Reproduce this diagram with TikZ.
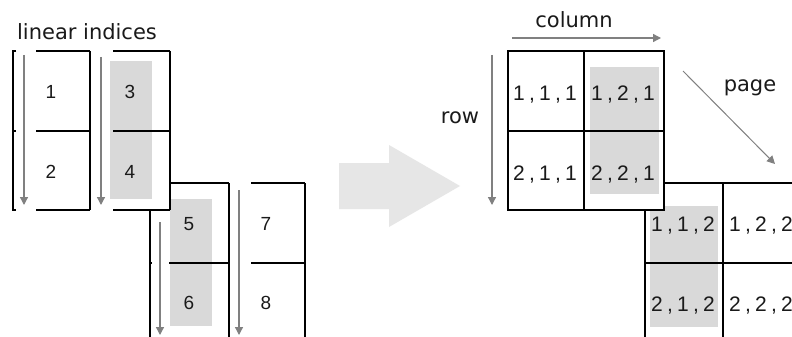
\documentclass[tikz,border=0pt]{standalone}
\usepackage{fontspec}
\setmainfont{Liberation Sans}
\newfontfamily\labfont{DejaVu Sans}
\usetikzlibrary{arrows.meta}
\definecolor{shade}{HTML}{D9D9D9}
\definecolor{bigarrow}{HTML}{E6E6E6}
\definecolor{arrowgray}{HTML}{808080}
\definecolor{ink}{HTML}{1A1A1A}
\newcommand\trip[3]{\makebox[13pt]{#1}\makebox[13pt]{,}\makebox[13pt]{#2}\makebox[13pt]{,}\makebox[13pt]{#3}}
\tikzset{
  gridline/.style={line width=1.2pt, black},
  shadebox/.style={fill=shade, draw=none},
  dirarrow/.style={arrowgray, line width=1.3pt, -{Triangle[width=8pt,length=8pt]}},
  label/.style={font=\labfont\fontsize{21}{24}\selectfont, text=ink, anchor=base, inner sep=0pt},
  num/.style={font=\fontsize{19}{21}\selectfont, text=ink, anchor=base, inner sep=0pt},
  mono/.style={font=\fontsize{21}{23}\selectfont, text=ink, anchor=base, inner sep=0pt},
}
\begin{document}
\begin{tikzpicture}[x=1pt,y=-1pt]
\useasboundingbox (0,0) rectangle (792,337);
\clip (0,0) rectangle (792,337);
\fill[white] (0,0) rectangle (792,337);

% ---------------- left: linear indices ----------------
\node[label] (lin) at (87,40) {linear indices};

% page 2 (left)
\fill[shadebox] (170,199) rectangle (212,326);
\draw[gridline] (170,183) -- (229,183);
\draw[gridline] (150,263) -- (152,263);
\draw[gridline] (169,263) -- (229,263);
\draw[gridline] (150,210) -- (150,345);
\draw[gridline] (229,183) -- (229,345);
\draw[gridline] (251,183) -- (305,183);
\draw[gridline] (251,263) -- (305,263);
\draw[gridline] (305,183) -- (305,345);

% page 1 (left)
\fill[shadebox] (110,61) rectangle (152,199);
\draw[gridline] (16,51) -- (13,51) -- (13,210) -- (16,210);
\draw[gridline] (13,131) -- (16,131);
\draw[gridline] (36,51) -- (90,51);
\draw[gridline] (36,131) -- (90,131);
\draw[gridline] (36,210) -- (90,210);
\draw[gridline] (90,51) -- (90,210);
\draw[gridline] (113,51) -- (170,51);
\draw[gridline] (113,131) -- (170,131);
\draw[gridline] (113,210) -- (170,210);
\draw[gridline] (170,51) -- (170,210);

% linear-index arrows
\coordinate (a1s) at (24,55);  \coordinate (a1e) at (24,205);
\coordinate (a2s) at (101,57); \coordinate (a2e) at (101,205);
\coordinate (a3s) at (160,222); \coordinate (a3e) at (160,335);
\coordinate (a4s) at (239,190); \coordinate (a4e) at (239,335);
\draw[dirarrow] (a1s) -- (a1e);
\draw[dirarrow] (a2s) -- (a2e);
\draw[dirarrow] (a3s) -- (a3e);
\draw[dirarrow] (a4s) -- (a4e);

\node[num] (n1) at (51,98.5) {1};
\node[num] (n2) at (51,178.5) {2};
\node[num] (n3) at (130,98.5) {3};
\node[num] (n4) at (130,178.5) {4};
\node[num] (n5) at (189,230.5) {5};
\node[num] (n6) at (189,309.5) {6};
\node[num] (n7) at (266,230.5) {7};
\node[num] (n8) at (266,309.5) {8};

% ---------------- big arrow ----------------
\fill[bigarrow] (339,163) -- (389,163) -- (389,145) -- (460,186) -- (389,227) -- (389,209) -- (339,209) -- cycle;

% ---------------- right: subscripts ----------------
% page 2
\fill[white] (645,183) rectangle (810,345);
\fill[shadebox] (650,206) rectangle (718,327);
\draw[gridline] (645,345) -- (645,183) -- (810,183);
\draw[gridline] (723,183) -- (723,345);
\draw[gridline] (645,263) -- (810,263);
% page 1
\fill[white] (508,51) rectangle (664,210);
\fill[shadebox] (590,67) rectangle (659,194);
\draw[gridline] (508,51) rectangle (664,210);
\draw[gridline] (584,51) -- (584,210);
\draw[gridline] (508,131) -- (664,131);

\node[mono] (s111) at (545,100) {\trip111};
\node[mono] (s121) at (623,100) {\trip121};
\node[mono] (s211) at (545,180) {\trip211};
\node[mono] (s221) at (623,180) {\trip221};
\node[mono] (s112) at (683,231) {\trip112};
\node[mono] (s212) at (683,311) {\trip212};
\node[mono] (s122) at (761,231) {\trip122};
\node[mono] (s222) at (761,311) {\trip222};

% direction arrows and labels
\node[label] (col) at (574,28) {column};
\node[label] (row) at (460,123) {row};
\node[label] (pag) at (750,92) {page};
\coordinate (cs) at (512,38); \coordinate (ce) at (661,38);
\coordinate (rs) at (492,55); \coordinate (re) at (492,205);
\coordinate (ps) at (683,71); \coordinate (pe) at (775,164);
\draw[dirarrow] (cs) -- (ce);
\draw[dirarrow] (rs) -- (re);
\draw[dirarrow, line width=1pt] (ps) -- (pe);
\end{tikzpicture}
\end{document}
